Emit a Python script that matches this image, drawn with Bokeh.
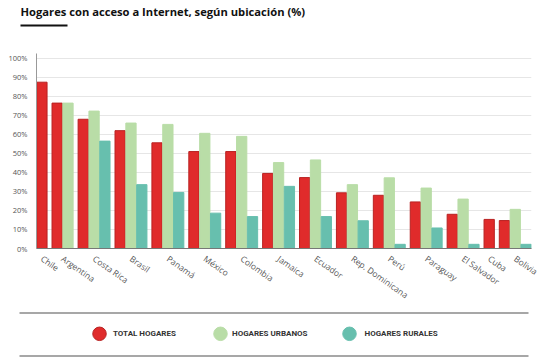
from bokeh.plotting import figure
from bokeh.models import Range1d, FixedTicker, PrintfTickFormatter, ColumnDataSource
from bokeh.layouts import column
from bokeh.embed import file_html
from bokeh.resources import INLINE
from bokeh.core.properties import value

# ---------------- data ----------------
title_text = "Hogares con acceso a Internet, según ubicación (%)"
countries = ["Chile", "Argentina", "Costa Rica", "Brasil", "Panamá", "México", "Colombia",
             "Jamaica", "Ecuador", "Rep. Dominicana", "Perú", "Paraguay", "El Salvador",
             "Cuba", "Bolivia"]
total = [87.5, 76.5, 68.0, 62.0, 55.6, 51.0, 51.0, 39.5, 37.3, 29.3, 28.0, 24.5, 18.0, 15.3, 14.7]
urbanos = [None, 76.5, 72.3, 66.0, 65.3, 60.6, 59.0, 45.2, 46.6, 33.6, 37.2, 31.8, 26.0, None, 20.6]
rurales = [None, None, 56.5, 33.6, 29.5, 18.6, 16.8, 32.7, 16.8, 14.6, 2.2, 10.8, 2.2, None, 2.2]
series_names = ["TOTAL HOGARES", "HOGARES URBANOS", "HOGARES RURALES"]
y_ticks = list(range(0, 101, 10))

# ---------------- styles ----------------
fill_colors = ["#e02b2b", "#b9dda7", "#67bfae"]
edge_colors = ["#b82222", "#b9dda7", "#67bfae"]
FONT = "Open Sans"
W, H = 543, 358
TITLE_H, MAIN_H = 45, 265
LEG_H = H - TITLE_H - MAIN_H
GROUP_GAP = 0.41
BAR_W = 0.95

# bars placed side by side; missing values take no room (as in the original)
series_values = [total, urbanos, rurales]
xs, tops, fills, edges = [], [], [], []
group_centers = []
pos = 0.0
for i, c in enumerate(countries):
    centers = []
    for k in range(len(series_values)):
        v = series_values[k][i]
        if v is None:
            continue
        centers.append(pos + 0.5)
        xs.append(pos + 0.5)
        tops.append(v)
        fills.append(fill_colors[k])
        edges.append(edge_colors[k])
        pos += 1.0
    group_centers.append(round(sum(centers) / len(centers), 4))
    pos += GROUP_GAP
x_end = pos - GROUP_GAP

src = ColumnDataSource(dict(x=xs, top=tops, fill=fills, edge=edges))

# ---------------- title ----------------
t = figure(width=W, height=TITLE_H, x_range=Range1d(0, W), y_range=Range1d(TITLE_H, 0),
           toolbar_location=None, output_backend="svg", min_border=0,
           x_axis_location=None, y_axis_location=None, frame_align=False)
t.grid.visible = False
t.outline_line_color = None
t.text(x=[20], y=[11], text=[title_text], text_font=value(FONT), text_font_style="bold",
       text_font_size="11.2px", text_baseline="alphabetic", text_color="#111111")
t.segment(x0=[20], y0=[25], x1=[67], y1=[25], line_width=2, line_color="#111111")

# ---------------- main chart ----------------
p = figure(width=W, height=MAIN_H,
           x_range=Range1d(0, x_end), y_range=Range1d(0, 102.6),
           toolbar_location=None, output_backend="svg", frame_align=False,
           min_border_left=36, min_border_right=12, min_border_top=8, min_border_bottom=62)
p.outline_line_color = None
p.vbar(x="x", top="top", width=BAR_W, source=src, fill_color="fill", line_color="edge", line_width=1)

p.xgrid.grid_line_color = None
p.ygrid.grid_line_color = "#e6e6e6"
p.ygrid.ticker = FixedTicker(ticks=y_ticks)

p.yaxis.ticker = FixedTicker(ticks=y_ticks)
p.yaxis.formatter = PrintfTickFormatter(format="%d%%")
p.yaxis.major_tick_line_color = None
p.yaxis.minor_tick_line_color = None
p.yaxis.axis_line_color = "#999999"
p.yaxis.major_label_text_font = FONT
p.yaxis.major_label_text_font_size = "7.5px"
p.yaxis.major_label_text_color = "#555555"
p.yaxis.major_label_standoff = 3

xa = p.xaxis[0]
xa.ticker = FixedTicker(ticks=group_centers)
xa.major_label_overrides = {gc: name for gc, name in zip(group_centers, countries)}
xa.axis_line_color = "#777777"
xa.major_tick_line_color = None
xa.minor_tick_line_color = None
xa.major_label_text_font = FONT
xa.major_label_text_font_size = "8.5px"
xa.major_label_text_color = "#555555"
xa.major_label_orientation = -0.61
xa.major_label_standoff = 3

# ---------------- legend ----------------
lg = figure(width=W, height=LEG_H, x_range=Range1d(0, W), y_range=Range1d(LEG_H, 0),
            toolbar_location=None, output_backend="svg", min_border=0,
            x_axis_location=None, y_axis_location=None, frame_align=False)
lg.grid.visible = False
lg.outline_line_color = None
lg.segment(x0=[19, 19], y0=[2.5, 45.5], x1=[528, 528], y1=[2.5, 45.5], line_width=1.5, line_color="#8a8a8a")
dot_x = [99, 220, 349]
txt_x = [112.5, 231.5, 364]
lg.scatter(x=dot_x, y=[23.3] * 3, size=13.5, marker="circle", fill_color=fill_colors, line_color=edge_colors)
lg.text(x=txt_x, y=[23.3] * 3, text=series_names, text_font=value("Roboto"), text_font_style="bold",
        text_font_size="8px", text_baseline="middle", text_color="#333333")

layout = column(t, p, lg, spacing=0)
open("out.html", "w").write(file_html(layout, INLINE))
